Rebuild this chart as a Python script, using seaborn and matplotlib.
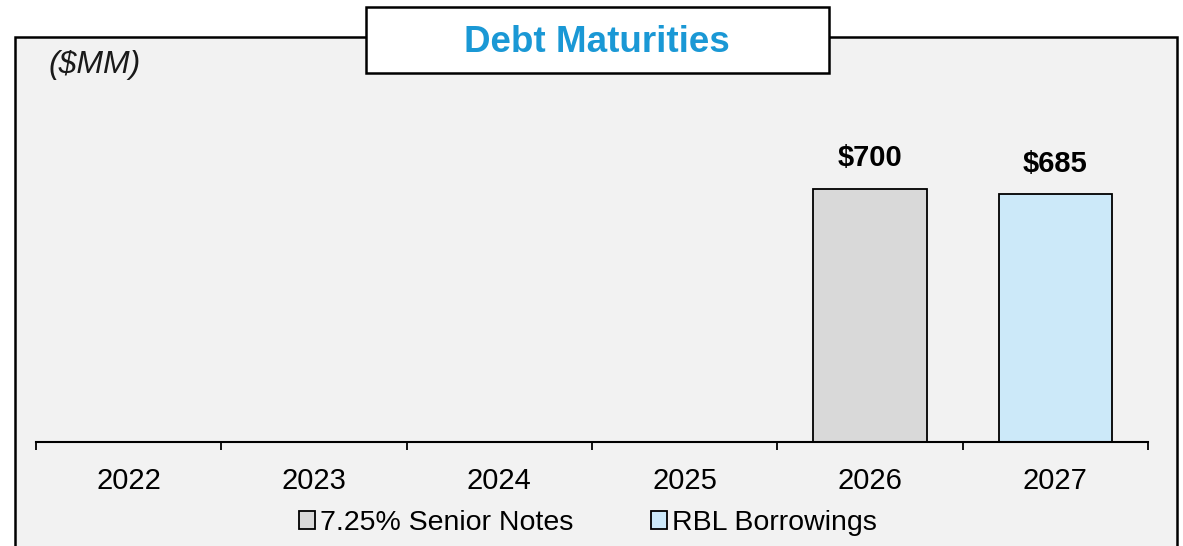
import matplotlib
matplotlib.use("Agg")
import matplotlib.pyplot as plt
from matplotlib.patches import Rectangle
import seaborn as sns
import pandas as pd

years = ["2022", "2023", "2024", "2025", "2026", "2027"]
senior_notes = [0, 0, 0, 0, 700, 0]
rbl_borrowings = [0, 0, 0, 0, 0, 685]
series_names = ["7.25% Senior Notes", "RBL Borrowings"]
colors = ["#d9d9d9", "#cce9f9"]
title = "Debt Maturities"
unit_label = "($MM)"

sns.set_theme(style="white")
plt.rcParams["font.family"] = ["Liberation Sans", "DejaVu Sans"]
plt.rcParams["text.color"] = "black"

W, H = 1183, 546
fig = plt.figure(figsize=(W / 100, H / 100), dpi=100)
fig.patch.set_facecolor("white")

# panel background
panel = Rectangle((15 / W, -0.05), (1177 - 15) / W, 1 - 37 / H + 0.05,
                  transform=fig.transFigure, facecolor="#f2f2f2",
                  edgecolor="black", linewidth=1.8, zorder=-5)
fig.patches.append(panel)

ax = fig.add_axes([36 / W, 1 - 442 / H, (1148 - 36) / W, (442 - 37) / H])
ax.set_facecolor("none")
ax.set_zorder(1)

rows = []
for y, a, b in zip(years, senior_notes, rbl_borrowings):
    rows.append({"year": y, "value": a, "series": series_names[0]})
    rows.append({"year": y, "value": b, "series": series_names[1]})
df = pd.DataFrame(rows)
df_plot = df[df["value"] > 0]

sns.barplot(data=df_plot, x="year", y="value", hue="series", order=years,
            hue_order=series_names, palette=colors, dodge=False, width=0.61,
            saturation=1, edgecolor="black", linewidth=1.3, ax=ax, legend=True)

ax.set_xlim(-0.5, len(years) - 0.5)
ax.set_ylim(0, 1120)
ax.set_xlabel("")
ax.set_ylabel("")
ax.set_yticks([])
for s in ["top", "left", "right"]:
    ax.spines[s].set_visible(False)
ax.spines["bottom"].set_color("black")
ax.spines["bottom"].set_linewidth(1.5)
ax.set_xticks(range(len(years)))
ax.set_xticklabels(years, fontsize=21, color="black")
ax.set_xticks([i - 0.5 for i in range(len(years) + 1)], minor=True)
ax.tick_params(axis="x", which="major", length=0, pad=18, labelcolor="black")
ax.tick_params(axis="x", which="minor", bottom=True, direction="out",
               length=6, width=1.3, color="black")

# value labels
for cont in ax.containers:
    for bar in cont:
        h = bar.get_height()
        if h > 0:
            ax.annotate(f"${h:.0f}", (bar.get_x() + bar.get_width() / 2, h),
                        xytext=(0, 12), textcoords="offset points",
                        ha="center", va="bottom", fontsize=21,
                        fontweight="bold", color="black")

# legend
handles, labels = ax.get_legend_handles_labels()
ax.get_legend().remove()
leg = fig.legend(handles, labels, loc="center",
                 bbox_to_anchor=(588 / W, 1 - 523 / H),
                 ncol=2, frameon=False, fontsize=20.5, handlelength=0.56,
                 handleheight=0.56, handletextpad=0.18, columnspacing=2.7,
                 borderpad=0)
for t in leg.get_texts():
    t.set_color("black")

# title box
tbox = Rectangle((366 / W, 1 - 73 / H), (829 - 366) / W, (73 - 7) / H,
                 transform=fig.transFigure, facecolor="white",
                 edgecolor="black", linewidth=1.8, zorder=5)
fig.patches.append(tbox)
fig.text(597 / W, 1 - 43 / H, title, ha="center", va="center",
         fontsize=26.5, fontweight="bold", color="#1a98d5", zorder=6)

fig.text(48 / W, 1 - 65 / H, unit_label, ha="left", va="center",
         fontsize=23, fontstyle="italic", color="#1a1a1a")

fig.savefig("out.png", dpi=100)
